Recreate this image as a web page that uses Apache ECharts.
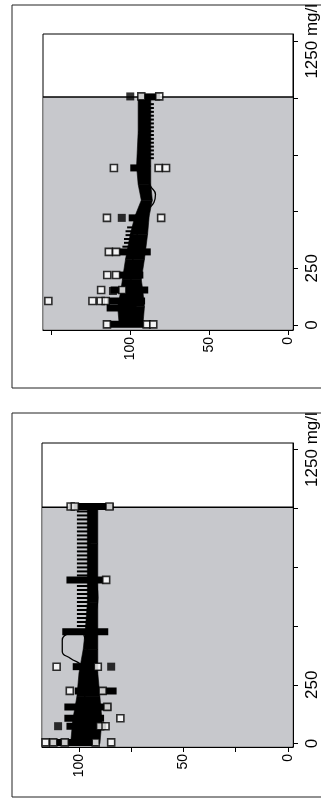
<!DOCTYPE html>
<html>
<head>
<meta charset="utf-8">
<script src="https://cdn.jsdelivr.net/npm/echarts@6/dist/echarts.min.js"></script>
<style>
html,body{margin:0;padding:0;background:#fff;}
#main{width:321px;height:807px;}
</style>
</head>
<body>
<div id="main"></div>
<script>
// axis ticks / labels
var concTicks = [0, 250, 500, 750, 1000, 1250];
var concLabels = [0, 250, 1250];
var valTicksA = [0, 50, 100, 150];
var valTicksB = [0, 25, 50, 75, 100];
var valLabels = [0, 50, 100];
var shadeTop = 1005;

// top panel: dense band (conc, upper value, lower value)
var bandConcA = [0, 80, 150, 200, 290, 400, 480, 550, 620, 700, 850, 1000];
var bandHiA   = [107, 108, 106, 105, 103, 100, 97, 93, 95, 96, 95, 95];
var bandLoA   = [92, 91, 92, 93, 91, 89, 88, 86, 87, 87, 87, 87];
// rows of points at one concentration: [conc, upper, lower]
var rowsA = [[1005, 95, 81], [692, 100, 88.6], [472, 101, 88.6], [322, 107, 87], [220, 107, 91.7],
  [154, 112.5, 88.6], [106, 114.8, 90.6], [75, 115, 96], [44, 107, 97], [3, 113.5, 90.6]];
var stripesA = [[345, 105, 99], [362, 104, 99], [379, 104, 99], [396, 103, 98], [413, 103, 97], [430, 102, 97],
  [735, 88, 85], [752, 88, 85], [769, 88, 85], [786, 88, 85], [803, 88, 85], [820, 88, 85], [837, 88, 85],
  [854, 88, 85], [871, 88, 85], [888, 88, 85], [905, 88, 85], [922, 88, 85], [939, 88, 85], [956, 88, 85], [973, 88, 85]];
var filledA = [[100, 1007], [105.4, 472], [111, 150]];
var openA = [[93, 1007], [81.6, 1007], [110.4, 692], [82, 692], [77.3, 692], [114.8, 472], [80.4, 472],
  [113.6, 322], [109, 322], [114.6, 220], [109, 220], [118.5, 154], [105, 154], [152, 106], [124, 106],
  [118.8, 106], [115.6, 106], [114.8, 3], [89.6, 3], [85.4, 3]];
var curveA = [[101, 0], [101, 60], [100, 150], [99, 250], [97, 350], [94, 440], [90, 500], [85, 540],
  [84, 575], [87, 610], [91, 660], [92, 750], [91, 880], [91, 1000]];

// bottom panel
var bandConcB = [0, 100, 200, 300, 400, 480, 600, 700, 850, 1000];
var bandHiB   = [104, 103, 101, 100, 98, 97, 96, 96, 96, 96];
var bandLoB   = [90, 89, 90, 91, 91, 91, 91, 91, 91, 91];
var rowsB = [[1008, 105, 83.5], [696, 106, 88], [476, 108, 86], [327, 103, 92], [224, 102, 82],
  [156, 107, 84.6], [108, 107, 88], [74, 106, 87], [5, 114, 91]];
var stripesB = [[500, 101, 95], [517, 101, 95], [534, 101, 95], [551, 101, 95], [568, 101, 95], [585, 101, 95],
  [602, 101, 95], [619, 101, 95], [636, 101, 95], [653, 101, 95], [670, 101, 95], [715, 101, 95],
  [732, 101, 95], [749, 101, 95], [766, 101, 95], [783, 101, 95], [800, 101, 95], [817, 101, 95],
  [834, 101, 95], [851, 101, 95], [868, 101, 95], [885, 101, 95], [902, 101, 95], [919, 101, 95],
  [936, 101, 95], [953, 101, 95], [970, 101, 95], [987, 101, 95]];
var filledB = [[84.6, 327], [110, 74]];
var openB = [[104, 1008], [102, 1008], [85.4, 1008], [87, 696], [110.7, 327], [91, 327], [104.4, 224],
  [88.7, 224], [86.4, 156], [80.2, 108], [89.9, 74], [87.3, 74], [116, 5], [112.3, 5], [106.8, 5],
  [92, 5], [84.6, 5]];
var curveB = [[97, 0], [97, 150], [98, 260], [99, 330], [104, 362], [108, 392], [108, 440], [104, 470],
  [99, 474], [97, 440], [96, 400], [95, 440], [94, 500], [92, 560], [91, 620], [92, 700], [94, 800],
  [95, 900], [95, 1000]];

function bandItems(c, hi, lo) {
  var out = [];
  for (var i = 0; i < c.length - 1; i++) {
    out.push([hi[i], c[i], lo[i], hi[i + 1], c[i + 1], lo[i + 1]]);
  }
  return out;
}

function renderBand(params, api) {
  var a = api.coord([api.value(0), api.value(1)]);
  var b = api.coord([api.value(2), api.value(1)]);
  var c = api.coord([api.value(5), api.value(4)]);
  var d = api.coord([api.value(3), api.value(4)]);
  return {
    type: 'polygon',
    shape: { points: [a, b, c, d] },
    style: { fill: '#000', stroke: '#000', lineWidth: 0.6 }
  };
}

function renderRow(h) {
  return function (params, api) {
    var a = api.coord([api.value(1), api.value(0)]);
    var b = api.coord([api.value(2), api.value(0)]);
    return {
      type: 'rect',
      shape: { x: Math.min(a[0], b[0]), y: a[1] - h / 2, width: Math.abs(b[0] - a[0]), height: h },
      style: { fill: '#000' }
    };
  };
}

function renderShade(params, api) {
  var cs = params.coordSys;
  var top = api.coord([0, api.value(1)])[1];
  return {
    type: 'group',
    children: [
      { type: 'rect', shape: { x: cs.x + 0.5, y: top, width: cs.width - 1, height: cs.y + cs.height - top - 0.5 },
        style: { fill: '#c7c8cc' } },
      { type: 'line', shape: { x1: cs.x, y1: top, x2: cs.x + cs.width, y2: top },
        style: { stroke: '#000', lineWidth: 1.5 } }
    ]
  };
}

function valAxis(g, min, max, ticks) {
  return {
    type: 'value', gridIndex: g, inverse: true, min: min, max: max, position: 'bottom', z: 10,
    axisLine: { show: true, onZero: false, lineStyle: { color: '#000', width: 1 } },
    axisTick: { show: true, length: 5, customValues: ticks, lineStyle: { color: '#000' } },
    axisLabel: { customValues: valLabels, rotate: 90, margin: 7, color: '#000', fontSize: 14,
      fontFamily: 'Liberation Sans' },
    splitLine: { show: false }
  };
}

function concAxis(g, min, max) {
  return {
    type: 'value', gridIndex: g, min: min, max: max, position: 'right', z: 10,
    axisLine: { show: true, onZero: false, lineStyle: { color: '#000', width: 1 } },
    axisTick: { show: true, length: 5, customValues: concTicks, lineStyle: { color: '#000' } },
    axisLabel: { customValues: concLabels, rotate: 90, margin: 11, color: '#000', fontSize: 17,
      fontFamily: 'Liberation Sans',
      formatter: function (v) { return v === 1250 ? '1250 mg/l' : String(v); } },
    splitLine: { show: false }
  };
}

function panelSeries(i, bc, bh, bl, rows, stripes, filled, open, curve) {
  return [
    { type: 'custom', xAxisIndex: i, yAxisIndex: i, z: 1, renderItem: renderShade, data: [[0, shadeTop]] },
    { type: 'custom', xAxisIndex: i, yAxisIndex: i, z: 2, renderItem: renderRow(2), data: stripes },
    { type: 'custom', xAxisIndex: i, yAxisIndex: i, z: 3, renderItem: renderBand, data: bandItems(bc, bh, bl) },
    { type: 'custom', xAxisIndex: i, yAxisIndex: i, z: 4, renderItem: renderRow(7), data: rows },
    { type: 'line', xAxisIndex: i, yAxisIndex: i, z: 5, data: curve, smooth: true, symbol: 'none',
      lineStyle: { color: '#000', width: 1.3 } },
    { type: 'scatter', xAxisIndex: i, yAxisIndex: i, z: 6, data: filled, symbol: 'rect', symbolSize: 8,
      itemStyle: { color: '#000' } },
    { type: 'scatter', xAxisIndex: i, yAxisIndex: i, z: 7, data: open, symbol: 'rect', symbolSize: 7,
      itemStyle: { color: '#fff', borderColor: '#000', borderWidth: 1.6 } }
  ];
}

var myChart = echarts.init(document.getElementById('main'));
var option = {
  animation: false,
  backgroundColor: '#fff',
  graphic: [
    { type: 'rect', shape: { x: 12, y: 5, width: 320, height: 383 }, style: { fill: 'none', stroke: '#222', lineWidth: 1 } },
    { type: 'rect', shape: { x: 12, y: 413, width: 320, height: 384 }, style: { fill: 'none', stroke: '#222', lineWidth: 1 } }
  ],
  grid: [
    { left: 43, top: 34, width: 255, height: 296, show: true, borderColor: '#000', borderWidth: 1, backgroundColor: '#fff' },
    { left: 42, top: 443, width: 253, height: 304, show: true, borderColor: '#000', borderWidth: 1, backgroundColor: '#fff' }
  ],
  xAxis: [valAxis(0, -3.3, 155.4, valTicksA), valAxis(1, -2.4, 117.7, valTicksB)],
  yAxis: [concAxis(0, -22, 1282), concAxis(1, -14.5, 1278)],
  series: panelSeries(0, bandConcA, bandHiA, bandLoA, rowsA, stripesA, filledA, openA, curveA)
    .concat(panelSeries(1, bandConcB, bandHiB, bandLoB, rowsB, stripesB, filledB, openB, curveB))
};
myChart.setOption(option);
window.addEventListener('resize', function () { myChart.resize(); });
</script>
</body>
</html>
